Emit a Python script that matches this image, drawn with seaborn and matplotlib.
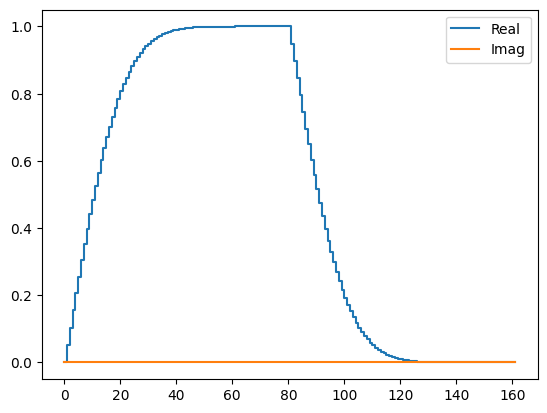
import numpy as np
import matplotlib
matplotlib.use("Agg")
import matplotlib.pyplot as plt
import seaborn as sns

# rising edge, samples 0..80
rise = [
    0.0, 0.0519, 0.1035, 0.1547, 0.2053, 0.2550, 0.3037, 0.3512, 0.3972, 0.4418,
    0.4847, 0.5258, 0.5650, 0.6023, 0.6376, 0.6708, 0.7021, 0.7312, 0.7584, 0.7836,
    0.8068, 0.8281, 0.8476, 0.8654, 0.8816, 0.8961, 0.9092, 0.9210, 0.9315, 0.9408,
    0.9490, 0.9563, 0.9626, 0.9682, 0.9730, 0.9772, 0.9808, 0.9839, 0.9866, 0.9888,
    0.9907, 0.9924, 0.9937, 0.9949, 0.9958, 0.9966, 0.9972, 0.9978, 0.9982, 0.9986,
    0.9989, 0.9991, 0.9993, 0.9994, 0.9996, 0.9997, 0.9997, 0.9998, 0.9998, 0.9999,
    0.9999, 1.0, 1.0, 1.0, 1.0, 1.0, 1.0, 1.0, 1.0, 1.0,
    1.0, 1.0, 1.0, 1.0, 1.0, 1.0, 1.0, 1.0, 1.0, 1.0,
    1.0,
]

# falling edge, samples 81..161
fall = [
    0.9481, 0.8965, 0.8453, 0.7947, 0.7450, 0.6963, 0.6488, 0.6028, 0.5582, 0.5153,
    0.4742, 0.4350, 0.3977, 0.3624, 0.3292, 0.2979, 0.2688, 0.2416, 0.2164, 0.1932,
    0.1719, 0.1524, 0.1346, 0.1184, 0.1039, 0.0908, 0.0790, 0.0685, 0.0592, 0.0510,
    0.0437, 0.0374, 0.0318, 0.0270, 0.0228, 0.0192, 0.0161, 0.0134, 0.0112, 0.0093,
    0.0076, 0.0063, 0.0051, 0.0042, 0.0034, 0.0028, 0.0022, 0.0018, 0.0014, 0.0011,
    0.0009, 0.0007, 0.0006, 0.0004, 0.0003, 0.0003, 0.0002, 0.0002, 0.0001, 0.0001,
    0.0, 0.0, 0.0, 0.0, 0.0, 0.0, 0.0, 0.0, 0.0, 0.0,
    0.0, 0.0, 0.0, 0.0, 0.0, 0.0, 0.0, 0.0, 0.0, 0.0,
    0.0,
]

real = rise + fall
imag = [0.0] * len(real)
n = np.arange(len(real))


def create_plot():
    plt.figure(figsize=(6.4, 4.8), dpi=100)
    sns.lineplot(x=n, y=real, label="Real", color="tab:blue", drawstyle="steps-post")
    sns.lineplot(x=n, y=imag, label="Imag", color="tab:orange", drawstyle="steps-post")
    plt.legend(loc="upper right")
    plt.savefig("out.png", dpi=100, bbox_inches="tight")


if __name__ == "__main__":
    create_plot()
